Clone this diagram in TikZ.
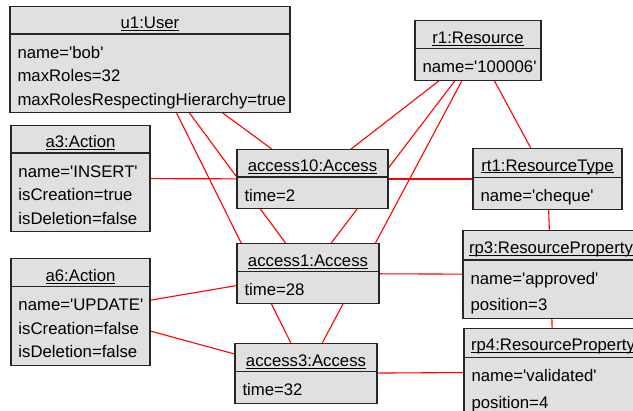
\documentclass[tikz,border=0pt]{standalone}
\usepackage{fontspec}
\setmainfont{Liberation Sans}[Ligatures=TeXOff]
\usetikzlibrary{shapes.multipart,backgrounds}
\definecolor{boxgray}{RGB}{224,224,224}
\newlength{\ulwd}
\newcommand{\tstrut}{\rule[-1.5pt]{0pt}{21pt}}
\newcommand{\astrut}{\rule[-4.5pt]{0pt}{25.5pt}}
\newcommand{\objtitle}[1]{\settowidth{\ulwd}{#1}\noindent\hbox to\hsize{\hss\tstrut\rlap{#1}\rule[-2pt]{\ulwd}{0.8pt}\hss}}

\begin{document}
\begin{tikzpicture}[x=1pt, y=-1pt,
        obj/.style={rectangle split, rectangle split parts=2, draw=black!85, line width=1.2pt,
            fill=boxgray, inner xsep=7.5pt, inner ysep=2.5pt, align=left,
            font=\fontsize{16.75}{23.5}\selectfont},
        link/.style={red, line width=1.1pt}]
        \useasboundingbox (0,0) rectangle (633,411);
        % Objects (centres in pixels of the sheet)
        \node[obj, text width=265pt] (u1) at (150,59.5)
            {\objtitle{u1:User}\nodepart{two}\astrut name='bob'\\maxRoles=32\\maxRolesRespectingHierarchy=true\astrut};
        \node[obj, text width=111pt] (r1) at (478,50.5)
            {\objtitle{r1:Resource}\nodepart{two}\astrut name='100006'\astrut};
        \node[obj, text width=124pt] (a3) at (80.5,178.5)
            {\objtitle{a3:Action}\nodepart{two}\astrut name='INSERT'\\isCreation=true\\isDeletion=false\astrut};
        \node[obj, text width=136pt] (access10) at (312.5,179)
            {\objtitle{access10:Access}\nodepart{two}\astrut time=2\astrut};
        \node[obj, text width=134pt] (rt1) at (547.5,179)
            {\objtitle{rt1:ResourceType}\nodepart{two}\astrut name='cheque'\astrut};
        \node[obj, text width=127pt] (access1) at (308,273.5)
            {\objtitle{access1:Access}\nodepart{two}\astrut time=28\astrut};
        \node[obj, text width=161pt] (rp3) at (551,274.5)
            {\objtitle{rp3:ResourceProperty}\nodepart{two}\astrut name='approved'\\position=3\astrut};
        \node[obj, text width=124pt] (a6) at (80.5,312)
            {\objtitle{a6:Action}\nodepart{two}\astrut name='UPDATE'\\isCreation=false\\isDeletion=false\astrut};
        \node[obj, text width=127pt] (access3) at (306,373.5)
            {\objtitle{access3:Access}\nodepart{two}\astrut time=32\astrut};
        \node[obj, text width=163pt] (rp4) at (553,372)
            {\objtitle{rp4:ResourceProperty}\nodepart{two}\astrut name='validated'\\position=4\astrut};

        % Links, behind the objects
        \begin{scope}[on background layer]
            \foreach \a/\b in {u1/access10, u1/access1, u1/access3,
                    r1/access10, r1/access1, r1/access3, r1/rt1,
                    a3/access10, access10/rt1, rt1/rp3, rp3/rp4,
                    a6/access1, a6/access3, access1/rp3, access3/rp4}
                \draw[link] (\a.center) -- (\b.center);
        \end{scope}
\end{tikzpicture}
\end{document}
